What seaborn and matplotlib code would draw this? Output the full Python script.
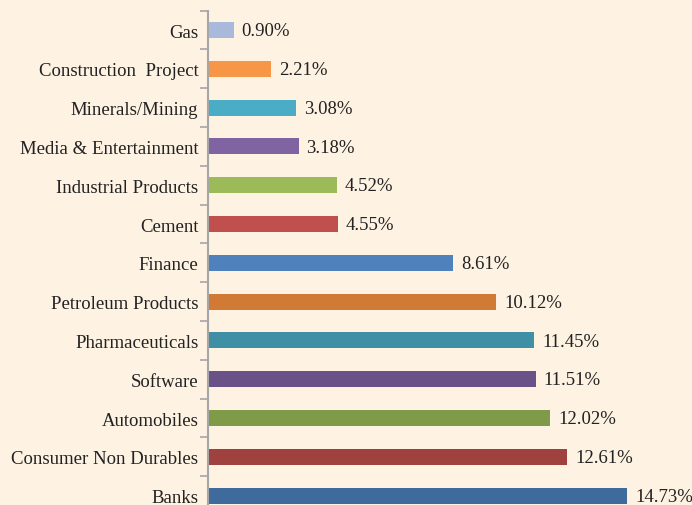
import matplotlib
matplotlib.use("Agg")
import matplotlib.pyplot as plt
import seaborn as sns
import pandas as pd
import numpy as np

# data
sectors = ["Gas", "Construction  Project", "Minerals/Mining", "Media & Entertainment",
           "Industrial Products", "Cement", "Finance", "Petroleum Products",
           "Pharmaceuticals", "Software", "Automobiles", "Consumer Non Durables", "Banks"]
weights = [0.90, 2.21, 3.08, 3.18, 4.52, 4.55, 8.61, 10.12, 11.45, 11.51, 12.02, 12.61, 14.73]
colors = ["#A9B9DB", "#F79646", "#4BACC6", "#8064A2", "#9BBB59", "#C0504D", "#4F81BD",
          "#D07A35", "#3F8FA5", "#6A5289", "#7F9A48", "#9E413F", "#3F6A9C"]

df = pd.DataFrame({"sector": sectors, "weight": weights})

bg = "#FEF2E3"
sns.set_style("white")
plt.rcParams["font.family"] = ["Liberation Serif", "DejaVu Serif"]

fig = plt.figure(figsize=(6.92, 5.06), dpi=100, facecolor=bg)
ax = fig.add_axes([208 / 692, -10 / 506, 484 / 692, 504.4 / 506])
ax.set_facecolor(bg)

sns.barplot(data=df, x="weight", y="sector", hue="sector", palette=colors,
            order=sectors, legend=False, width=0.41, ax=ax, saturation=1, linewidth=0)

# value labels at bar ends
for i, v in enumerate(weights):
    ax.text(v + 0.28, i + 0.02, f"{v:.2f}%", va="center", ha="left", fontsize=13.5, color="#222222")

ax.set_xlim(0, 17)
ax.set_ylim(len(sectors) - 0.5, -0.5)
ax.set_xlabel("")
ax.set_ylabel("")
ax.set_xticks([])

for s in ["top", "right", "bottom"]:
    ax.spines[s].set_visible(False)
ax.spines["left"].set_color("#A6A6A6")
ax.spines["left"].set_linewidth(1.5)

ax.tick_params(axis="y", which="major", length=0, pad=7, labelsize=13.5, labelcolor="#222222")
ax.set_yticks(np.arange(-0.5, len(sectors), 1), minor=True)
ax.tick_params(axis="y", which="minor", left=True, length=6, width=1.2, color="#A6A6A6")

fig.savefig("out.png", dpi=100, facecolor=bg)
